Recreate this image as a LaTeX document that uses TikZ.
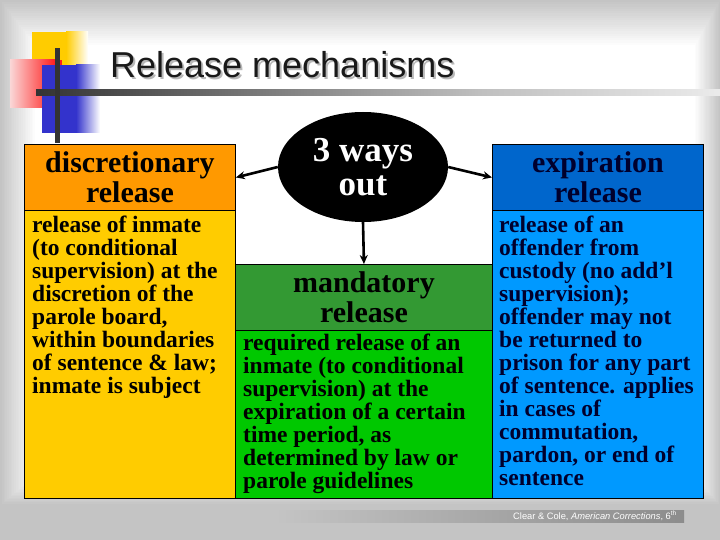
\documentclass[tikz,border=0pt]{standalone}
\usepackage{fontspec}
\setmainfont{Liberation Serif}
\setsansfont{Liberation Sans}
\usetikzlibrary{shapes.geometric,arrows.meta}
\definecolor{bggray}{RGB}{196,196,196}
\definecolor{orhead}{RGB}{255,153,0}
\definecolor{yebody}{RGB}{255,204,0}
\definecolor{grhead}{RGB}{51,153,51}
\definecolor{grbody}{RGB}{0,200,0}
\definecolor{blhead}{RGB}{0,102,204}
\definecolor{blbody}{RGB}{0,153,255}
\definecolor{sqyellow}{RGB}{255,204,0}
\definecolor{sqred}{RGB}{255,30,30}
\definecolor{sqpink}{RGB}{250,215,215}
\definecolor{sqblue}{RGB}{51,51,204}
\definecolor{navytext}{RGB}{0,0,45}
\begin{document}
\begin{tikzpicture}[x=1pt,y=-1pt,
  boxline/.style={draw=black, line width=0.9pt},
  hdr/.style={boxline, anchor=north west, inner sep=0pt, align=center,
    font=\fontsize{30pt}{30pt}\selectfont\bfseries},
  bodybox/.style={boxline, anchor=north west, inner sep=0pt},
  bodytext/.style={anchor=north west, inner sep=0pt, align=left,
    font=\fontsize{23.5pt}{23pt}\selectfont\bfseries},
  titlefont/.style={anchor=base west, inner sep=0pt, font=\sffamily\fontsize{36pt}{40pt}\selectfont},
  arr/.style={line width=2.6pt, -{Stealth[length=9pt,width=8pt]}}]
\useasboundingbox (0,0) rectangle (720,540);
% background: grey frame fading softly into a white centre
\fill[bggray] (0,0) rectangle (720,540);
\foreach \i in {1,...,20}{
  \pgfmathsetmacro{\pct}{100*\i/20}
  \fill[white!\pct!bggray] (1.75*\i, 2.25*\i) rectangle (720-1.25*\i, 505-1.5*\i);
}
% decoration squares
\fill[sqyellow] (32,32) rectangle (66,88);
\shade[left color=sqyellow, right color=white] (66,32) rectangle (88,88);
\shade[left color=sqpink, right color=sqred] (10,60) rectangle (55,108);
\fill[sqred] (55,60) rectangle (62,108);
\fill[sqblue] (42,65) rectangle (76,133);
\shade[left color=sqblue, right color=white] (76,65) rectangle (100,133);
\shade[left color=black!80, right color=black!25] (36,90) rectangle (480,96);
\shade[left color=black!25, right color=black!8] (480,90) rectangle (720,96);
\fill[black!80] (55,48) rectangle (60,143);
% title (with drop shadow)
\node[titlefont, text=black!28] at (112,80) {Release mechanisms};
\node[titlefont, text=black!90] (title) at (110,78) {Release mechanisms};
% left column
\node[bodybox, fill=yebody, minimum width=211pt, minimum height=288pt] (db) at (24,210) {};
\node[hdr, fill=orhead, minimum width=211pt, minimum height=66pt] (dh) at (24,144) {discretionary\\release};
\node[bodytext] (dt) at (32,216) {release of inmate\\(to conditional\\supervision) at the\\discretion of the\\parole board,\\within boundaries\\of sentence \& law;\\inmate is subject};
% middle column
\node[bodybox, fill=grbody, minimum width=257pt, minimum height=168pt] (mb) at (235,330) {};
\node[hdr, fill=grhead, minimum width=257pt, minimum height=66pt] (mh) at (235,264) {mandatory\\release};
\node[bodytext] (mt) at (243,334) {required release of an\\inmate (to conditional\\supervision) at the\\expiration of a certain\\time period, as\\determined by law or\\parole guidelines};
% right column
\node[bodybox, fill=blbody, minimum width=211pt, minimum height=288pt] (eb) at (492,210) {};
\node[hdr, fill=blhead, minimum width=211pt, minimum height=66pt, text=navytext] (eh) at (492,144) {expiration\\release};
\node[bodytext, text=navytext] (et) at (499,216) {release of an\\offender from\\custody (no add’l\\supervision);\\offender may not\\be returned to\\prison for any part\\of sentence. applies\\in cases of\\commutation,\\pardon, or end of\\sentence};
% centre ellipse
\node[ellipse, fill=black, minimum width=170pt, minimum height=110pt, inner sep=0pt,
  text=white, align=center, font=\fontsize{35pt}{34pt}\selectfont\bfseries] (ways) at (363,167) {3 ways\\out};
\draw[arr] (ways.west) -- (dh.east);
\draw[arr] (ways.east) -- (eh.west);
\draw[arr] (ways.south) -- (mh.north);
% footer
\shade[left color=bggray, right color=black!45] (275,510) rectangle (684,522);
\node[anchor=base east, inner sep=0pt, text=white, font=\sffamily\fontsize{9.3pt}{11pt}\selectfont] (foot) at (677,519) {Clear \& Cole, \textit{American Corrections}, 6\textsuperscript{th}};
\end{tikzpicture}
\end{document}
